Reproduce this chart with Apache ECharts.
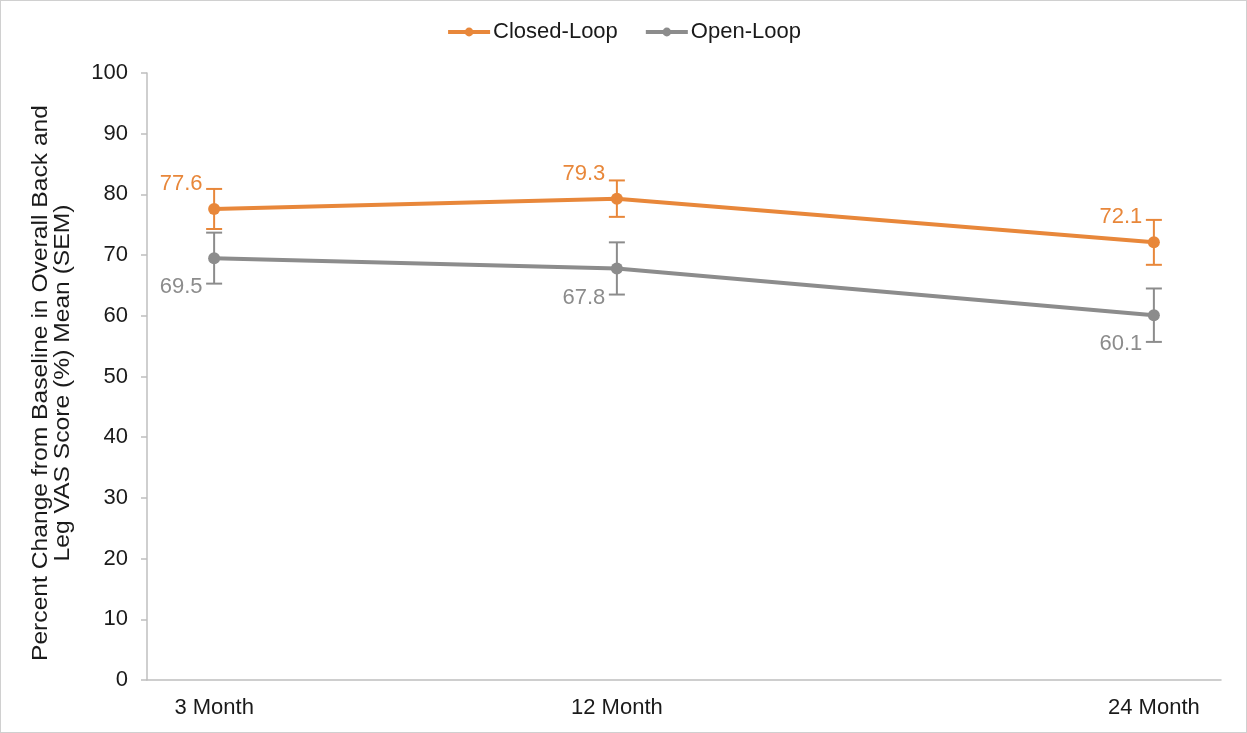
<!DOCTYPE html>
<html>
<head>
<meta charset="utf-8">
<script src="https://cdn.jsdelivr.net/npm/echarts@6/dist/echarts.min.js"></script>
<style>
  html, body { margin: 0; padding: 0; background: #fff; }
  #chart { width: 1247px; height: 733px; box-sizing: border-box; border: 1px solid #d0d0d0; }
</style>
</head>
<body>
<div id="chart"></div>
<script>
// Follow-up timepoints (months) and their axis labels
const months = [3, 12, 24];
const monthLabels = ['3 Month', '12 Month', '24 Month'];

// Mean percent change from baseline
const closedLoopMean = [77.6, 79.3, 72.1];
const openLoopMean = [69.5, 67.8, 60.1];

// Standard error of the mean
const closedLoopSem = [3.3, 3.0, 3.7];
const openLoopSem = [4.2, 4.3, 4.4];

const yTitle = 'Percent Change from Baseline in Overall Back and\nLeg VAS Score (%) Mean (SEM)';

const ORANGE = '#E8873A';
const GREY = '#8C8C8C';
const FONT = 'Liberation Sans, Arial, sans-serif';

function points(mean) { return months.map((m, i) => [m, mean[i]]); }
function errRows(mean, sem) { return months.map((m, i) => [m, mean[i] - sem[i], mean[i] + sem[i]]); }

function errorSeries(name, rows, color) {
  return {
    type: 'custom',
    name: name,
    z: 5,
    data: rows,
    encode: { x: 0, y: [1, 2] },
    renderItem: function (params, api) {
      const x = api.value(0);
      const lo = api.coord([x, api.value(1)]);
      const hi = api.coord([x, api.value(2)]);
      const cap = 8;
      const style = { stroke: color, lineWidth: 2 };
      return {
        type: 'group',
        children: [
          { type: 'line', shape: { x1: lo[0], y1: lo[1], x2: hi[0], y2: hi[1] }, style: style },
          { type: 'line', shape: { x1: lo[0] - cap, y1: lo[1], x2: lo[0] + cap, y2: lo[1] }, style: style },
          { type: 'line', shape: { x1: hi[0] - cap, y1: hi[1], x2: hi[0] + cap, y2: hi[1] }, style: style }
        ]
      };
    }
  };
}

function lineSeries(name, mean, color, labelOffset) {
  return {
    type: 'line',
    name: name,
    data: points(mean),
    z: 3,
    symbol: 'circle',
    symbolSize: 12,
    lineStyle: { color: color, width: 4 },
    itemStyle: { color: color },
    label: {
      show: true,
      position: 'inside',
      offset: labelOffset,
      color: color,
      fontSize: 22,
      fontFamily: FONT,
      formatter: p => p.value[1].toFixed(1)
    }
  };
}

const chart = echarts.init(document.getElementById('chart'));
chart.setOption({
  animation: false,
  textStyle: { fontFamily: FONT },
  legend: {
    top: 15,
    left: 'center',
    data: ['Closed-Loop', 'Open-Loop'],
    itemWidth: 42,
    itemHeight: 11,
    itemGap: 26,
    lineStyle: { width: 4 },
    textStyle: { fontSize: 22, color: '#1a1a1a', fontFamily: FONT, padding: [0, 0, 0, -2] }
  },
  // rotated, slightly elongated y-axis title in two lines
  graphic: [{
    type: 'text',
    x: 51,
    y: 382,
    rotation: Math.PI / 2,
    scaleX: 1.12,
    style: {
      text: yTitle,
      font: '22px ' + FONT,
      fill: '#1a1a1a',
      align: 'center',
      verticalAlign: 'middle',
      lineHeight: 22
    }
  }],
  grid: { left: 146, right: 25, top: 72, bottom: 52, containLabel: false },
  xAxis: {
    type: 'value',
    min: 1.5,
    max: 25.5,
    axisLine: { show: true, lineStyle: { color: '#BFBFBF', width: 1.5 } },
    axisTick: { show: false },
    splitLine: { show: false },
    axisLabel: {
      customValues: months,
      formatter: v => monthLabels[months.indexOf(v)] || '',
      color: '#1a1a1a',
      fontSize: 22,
      margin: 17
    }
  },
  yAxis: {
    type: 'value',
    min: 0,
    max: 100,
    interval: 10,
    axisLine: { show: true, lineStyle: { color: '#BFBFBF', width: 1.5 } },
    axisTick: { show: true, inside: false, length: 6, lineStyle: { color: '#BFBFBF', width: 1.5 } },
    splitLine: { show: false },
    axisLabel: { color: '#1a1a1a', fontSize: 22, margin: 19 }
  },
  series: [
    lineSeries('Closed-Loop', closedLoopMean, ORANGE, [-33, -25]),
    lineSeries('Open-Loop', openLoopMean, GREY, [-33, 29]),
    errorSeries('Closed-Loop SEM', errRows(closedLoopMean, closedLoopSem), ORANGE),
    errorSeries('Open-Loop SEM', errRows(openLoopMean, openLoopSem), GREY)
  ]
});
</script>
</body>
</html>
